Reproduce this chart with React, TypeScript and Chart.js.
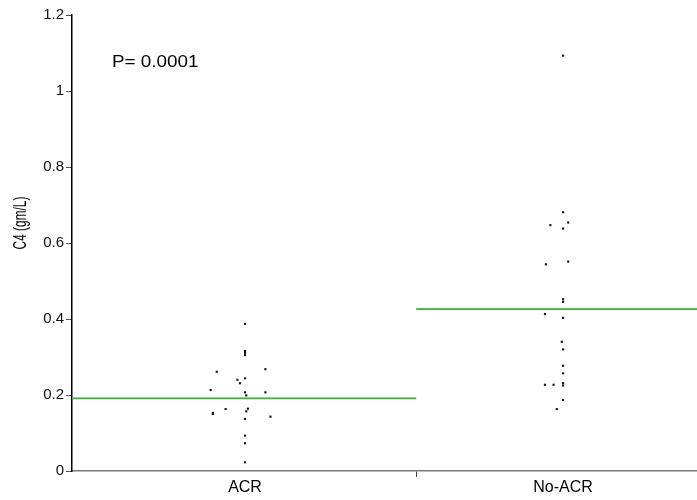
import React, { useEffect, useRef } from "react";
import { Chart, registerables } from "chart.js";

Chart.register(...registerables);

// ---- data ----
const categories = ["ACR", "No-ACR"];
const pValueLabel = "P= 0.0001";
const yAxisTitle = "C4 (gm/L)";

// jittered category position (1 = ACR, 2 = No-ACR) and C4 values
const acrX = [1.0, 1.0, 1.0, 1.0, 0.911, 1.064, 1.0, 0.976, 0.984, 0.892, 1.0, 1.064, 1.004, 0.939, 1.009, 1.004, 0.899, 0.899, 1.08, 1.0, 1.0, 1.0, 1.0];
const acrC4 = [0.387, 0.316, 0.311, 0.305, 0.261, 0.268, 0.244, 0.24, 0.231, 0.213, 0.207, 0.207, 0.199, 0.163, 0.164, 0.157, 0.153, 0.15, 0.143, 0.137, 0.093, 0.073, 0.023];

const noAcrX = [2.0, 2.0, 2.016, 1.96, 2.0, 1.946, 2.016, 2.0, 2.0, 1.943, 2.0, 1.996, 2.0, 2.0, 2.0, 1.943, 1.97, 2.0, 2.0, 2.0, 1.98];
const noAcrC4 = [1.093, 0.681, 0.654, 0.647, 0.638, 0.544, 0.551, 0.452, 0.445, 0.413, 0.403, 0.34, 0.32, 0.277, 0.257, 0.227, 0.227, 0.231, 0.225, 0.187, 0.163];

const groupMeans = [0.191, 0.426];

// ---- scale layout ----
const X_MIN = 0.456;
const X_MAX = 2.421;
const DIVIDER = 1.538;
const Y_MIN = 0;
const Y_MAX = 1.2;
const Y_STEP = 0.2;

const FONT = "'Liberation Sans', Arial, sans-serif";

export default function App() {
  const ref = useRef<HTMLCanvasElement | null>(null);

  useEffect(() => {
    document.body.style.margin = "0";
    const canvas = ref.current;
    if (!canvas) return;

    const textPlugin = {
      id: "extraText",
      afterDraw(chart: any) {
        const ctx = chart.ctx as CanvasRenderingContext2D;
        ctx.save();
        ctx.fillStyle = "#000";
        ctx.font = `16px ${FONT}`;
        ctx.textAlign = "left";
        ctx.textBaseline = "middle";
        ctx.translate(112, 63);
        ctx.scale(1.18, 1);
        ctx.fillText(pValueLabel, 0, 0);
        ctx.restore();

        ctx.save();
        ctx.fillStyle = "#000";
        ctx.font = `12.5px ${FONT}`;
        ctx.textAlign = "center";
        ctx.textBaseline = "middle";
        ctx.translate(21, 223);
        ctx.rotate(-Math.PI / 2);
        ctx.scale(0.95, 1.4);
        ctx.fillText(yAxisTitle, 0, 0);
        ctx.restore();
      },
    };

    const pointStyle = {
      pointStyle: "rect" as const,
      pointRadius: 1.5,
      pointHoverRadius: 1.5,
      pointBackgroundColor: "#111",
      pointBorderWidth: 0,
      showLine: false,
    };
    const meanLine = {
      type: "line" as const,
      showLine: true,
      borderColor: "#3aae3a",
      borderWidth: 1.6,
      pointRadius: 0,
      pointHoverRadius: 0,
      fill: false,
    };

    const chart = new Chart(canvas, {
      type: "scatter",
      data: {
        datasets: [
          { ...meanLine, label: "ACR mean", data: [{ x: X_MIN, y: groupMeans[0] }, { x: DIVIDER, y: groupMeans[0] }] },
          { ...meanLine, label: "No-ACR mean", data: [{ x: DIVIDER, y: groupMeans[1] }, { x: X_MAX, y: groupMeans[1] }] },
          { ...pointStyle, label: categories[0], data: acrC4.map((v, i) => ({ x: acrX[i], y: v })) },
          { ...pointStyle, label: categories[1], data: noAcrC4.map((v, i) => ({ x: noAcrX[i], y: v })) },
        ] as any,
      },
      options: {
        responsive: false,
        animation: false,
        events: [],
        layout: { autoPadding: false, padding: { top: 15, right: 0, left: 0, bottom: 0 } },
        plugins: { legend: { display: false }, tooltip: { enabled: false } },
        scales: {
          x: {
            type: "linear",
            min: X_MIN,
            max: X_MAX,
            afterFit: (s: any) => {
              s.height = 29;
              s.paddingLeft = 0;
              s.paddingRight = 0;
            },
            afterBuildTicks: (s: any) => {
              s.ticks = [{ value: 1 }, { value: DIVIDER }, { value: 2 }];
            },
            ticks: {
              autoSkip: false,
              maxRotation: 0,
              padding: 1,
              color: "#000",
              font: { family: FONT, size: 16 },
              callback: (v: any) => (v === 1 ? categories[0] : v === 2 ? categories[1] : ""),
            },
            grid: {
              drawOnChartArea: false,
              drawTicks: true,
              tickLength: 6,
              color: (c: any) => (c.tick && c.tick.value === DIVIDER ? "#444" : "rgba(0,0,0,0)"),
            },
            border: { display: true, color: "#7a7a7a", width: 1.5 },
          },
          y: {
            type: "linear",
            min: Y_MIN,
            max: Y_MAX,
            afterFit: (s: any) => {
              s.width = 72;
              s.paddingLeft = 0;
              s.paddingRight = 0;
            },
            ticks: {
              stepSize: Y_STEP,
              padding: 2,
              color: "#111",
              font: { family: FONT, size: 15 },
              callback: (v: any) => String(parseFloat(Number(v).toFixed(1))),
            },
            grid: {
              drawOnChartArea: false,
              drawTicks: true,
              tickLength: 6,
              color: "#555",
            },
            border: { display: true, color: "#000", width: 1.5 },
          },
        },
      },
      plugins: [textPlugin],
    });

    return () => chart.destroy();
  }, []);

  return (
    <div style={{ position: "absolute", left: 0, top: 0, width: 697, height: 500 }}>
      <canvas ref={ref} width={697} height={500} />
    </div>
  );
}
